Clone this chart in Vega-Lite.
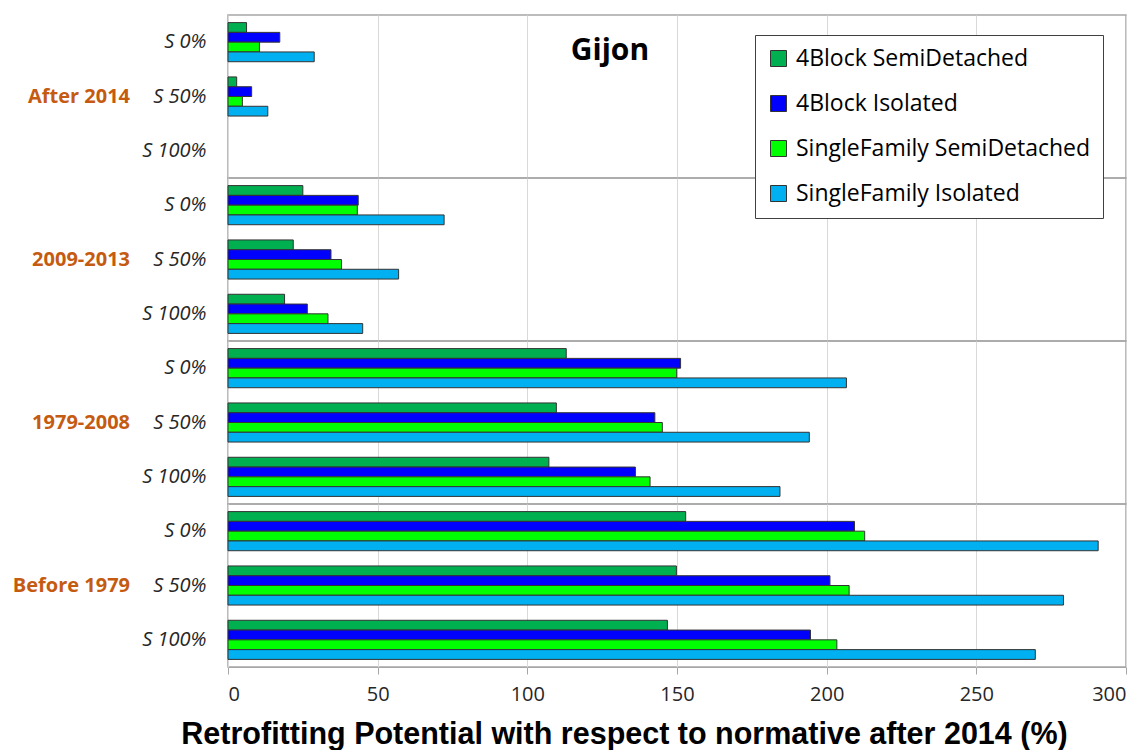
{
  "$schema": "https://vega.github.io/schema/vega-lite/v6.json",
  "background": "white",
  "bounds": "flush",
  "padding": {"left": 12, "top": 14, "right": 18, "bottom": 0},
  "title": {"text": "Gijon", "anchor": "start", "dx": 558, "offset": -52, "fontSize": 30, "font": "Open Sans", "fontWeight": "bold", "color": "black"},
  "data": {"values": [
    {"period": "After 2014", "scen": "S 0%", "series": "4Block SemiDetached", "v": 6.2},
    {"period": "After 2014", "scen": "S 0%", "series": "4Block Isolated", "v": 17.3},
    {"period": "After 2014", "scen": "S 0%", "series": "SingleFamily SemiDetached", "v": 10.5},
    {"period": "After 2014", "scen": "S 0%", "series": "SingleFamily Isolated", "v": 28.8},
    {"period": "After 2014", "scen": "S 50%", "series": "4Block SemiDetached", "v": 2.9},
    {"period": "After 2014", "scen": "S 50%", "series": "4Block Isolated", "v": 7.9},
    {"period": "After 2014", "scen": "S 50%", "series": "SingleFamily SemiDetached", "v": 4.8},
    {"period": "After 2014", "scen": "S 50%", "series": "SingleFamily Isolated", "v": 13.3},
    {"period": "After 2014", "scen": "S 100%", "series": "4Block SemiDetached", "v": 0},
    {"period": "After 2014", "scen": "S 100%", "series": "4Block Isolated", "v": 0},
    {"period": "After 2014", "scen": "S 100%", "series": "SingleFamily SemiDetached", "v": 0},
    {"period": "After 2014", "scen": "S 100%", "series": "SingleFamily Isolated", "v": 0},
    {"period": "2009-2013", "scen": "S 0%", "series": "4Block SemiDetached", "v": 25.0},
    {"period": "2009-2013", "scen": "S 0%", "series": "4Block Isolated", "v": 43.5},
    {"period": "2009-2013", "scen": "S 0%", "series": "SingleFamily SemiDetached", "v": 43.2},
    {"period": "2009-2013", "scen": "S 0%", "series": "SingleFamily Isolated", "v": 72.2},
    {"period": "2009-2013", "scen": "S 50%", "series": "4Block SemiDetached", "v": 21.8},
    {"period": "2009-2013", "scen": "S 50%", "series": "4Block Isolated", "v": 34.4},
    {"period": "2009-2013", "scen": "S 50%", "series": "SingleFamily SemiDetached", "v": 37.9},
    {"period": "2009-2013", "scen": "S 50%", "series": "SingleFamily Isolated", "v": 57.0},
    {"period": "2009-2013", "scen": "S 100%", "series": "4Block SemiDetached", "v": 18.9},
    {"period": "2009-2013", "scen": "S 100%", "series": "4Block Isolated", "v": 26.5},
    {"period": "2009-2013", "scen": "S 100%", "series": "SingleFamily SemiDetached", "v": 33.4},
    {"period": "2009-2013", "scen": "S 100%", "series": "SingleFamily Isolated", "v": 45.0},
    {"period": "1979-2008", "scen": "S 0%", "series": "4Block SemiDetached", "v": 113.0},
    {"period": "1979-2008", "scen": "S 0%", "series": "4Block Isolated", "v": 151.2},
    {"period": "1979-2008", "scen": "S 0%", "series": "SingleFamily SemiDetached", "v": 149.9},
    {"period": "1979-2008", "scen": "S 0%", "series": "SingleFamily Isolated", "v": 206.6},
    {"period": "1979-2008", "scen": "S 50%", "series": "4Block SemiDetached", "v": 109.7},
    {"period": "1979-2008", "scen": "S 50%", "series": "4Block Isolated", "v": 142.6},
    {"period": "1979-2008", "scen": "S 50%", "series": "SingleFamily SemiDetached", "v": 145.1},
    {"period": "1979-2008", "scen": "S 50%", "series": "SingleFamily Isolated", "v": 194.2},
    {"period": "1979-2008", "scen": "S 100%", "series": "4Block SemiDetached", "v": 107.2},
    {"period": "1979-2008", "scen": "S 100%", "series": "4Block Isolated", "v": 136.1},
    {"period": "1979-2008", "scen": "S 100%", "series": "SingleFamily SemiDetached", "v": 141.0},
    {"period": "1979-2008", "scen": "S 100%", "series": "SingleFamily Isolated", "v": 184.4},
    {"period": "Before 1979", "scen": "S 0%", "series": "4Block SemiDetached", "v": 152.9},
    {"period": "Before 1979", "scen": "S 0%", "series": "4Block Isolated", "v": 209.3},
    {"period": "Before 1979", "scen": "S 0%", "series": "SingleFamily SemiDetached", "v": 212.7},
    {"period": "Before 1979", "scen": "S 0%", "series": "SingleFamily Isolated", "v": 290.7},
    {"period": "Before 1979", "scen": "S 50%", "series": "4Block SemiDetached", "v": 149.8},
    {"period": "Before 1979", "scen": "S 50%", "series": "4Block Isolated", "v": 201.1},
    {"period": "Before 1979", "scen": "S 50%", "series": "SingleFamily SemiDetached", "v": 207.5},
    {"period": "Before 1979", "scen": "S 50%", "series": "SingleFamily Isolated", "v": 279.1},
    {"period": "Before 1979", "scen": "S 100%", "series": "4Block SemiDetached", "v": 146.8},
    {"period": "Before 1979", "scen": "S 100%", "series": "4Block Isolated", "v": 194.6},
    {"period": "Before 1979", "scen": "S 100%", "series": "SingleFamily SemiDetached", "v": 203.4},
    {"period": "Before 1979", "scen": "S 100%", "series": "SingleFamily Isolated", "v": 269.7}
  ]},
  "facet": {
    "row": {
      "field": "period", "type": "nominal",
      "sort": ["After 2014", "2009-2013", "1979-2008", "Before 1979"],
      "header": {"title": null, "labelOrient": "left", "labelAngle": 0, "labelAlign": "left", "labelColor": "#C55A11", "labelFont": "Open Sans", "labelFontWeight": "bold", "labelFontSize": 20, "labelPadding": 0, "labelBaseline": "middle", "labelLimit": 0}
    }
  },
  "spacing": 0,
  "spec": {
    "width": 898,
    "height": 163,
    "mark": {"type": "bar", "stroke": "#333333", "strokeWidth": 1},
    "encoding": {
      "y": {"field": "scen", "type": "nominal", "sort": ["S 0%", "S 50%", "S 100%"],
        "scale": {"paddingInner": 0.28, "paddingOuter": 0.14},
        "axis": {"title": null, "ticks": false, "domain": true, "domainColor": "#A6A6A6", "labelFont": "Open Sans", "labelFontStyle": "italic", "labelFontSize": 20, "labelColor": "#262626", "labelPadding": 22, "minExtent": 98}},
      "yOffset": {"field": "series", "type": "nominal",
        "sort": ["4Block SemiDetached", "4Block Isolated", "SingleFamily SemiDetached", "SingleFamily Isolated"]},
      "x": {"field": "v", "type": "quantitative",
        "scale": {"domain": [0, 300], "nice": false},
        "axis": {"values": [0, 50, 100, 150, 200, 250, 300], "title": "Retrofitting Potential  with respect to normative after 2014 (%)",
          "titleFont": "Liberation Sans", "titleFontSize": 30.5, "titleFontWeight": "bold", "titleColor": "black", "titlePadding": 15, "titleX": 396,
          "labelFont": "Open Sans", "labelFontSize": 20, "labelColor": "#262626", "labelPadding": 10,
          "grid": true, "gridColor": "#D9D9D9", "domainColor": "#A6A6A6", "tickColor": "#A6A6A6", "tickSize": 7}},
      "strokeOpacity": {"condition": {"test": "datum.v == 0", "value": 0}, "value": 1},
      "color": {"field": "series", "type": "nominal",
        "sort": ["4Block SemiDetached", "4Block Isolated", "SingleFamily SemiDetached", "SingleFamily Isolated"],
        "scale": {"domain": ["4Block SemiDetached", "4Block Isolated", "SingleFamily SemiDetached", "SingleFamily Isolated"], "range": ["#00B050", "#0000FF", "#00FF00", "#00B0F0"]},
        "legend": {"title": null, "orient": "none", "legendX": 527, "legendY": 20, "symbolType": "square", "symbolSize": 256, "symbolStrokeColor": "#333333", "symbolStrokeWidth": 1,
          "labelFont": "Open Sans", "labelFontSize": 23, "labelColor": "black", "labelLimit": 0, "rowPadding": 21, "padding": 12, "strokeColor": "#404040", "fillColor": "white", "labelOffset": 6}}
    }
  },
  "config": {"view": {"stroke": "#A6A6A6", "strokeWidth": 1.5}}
}
